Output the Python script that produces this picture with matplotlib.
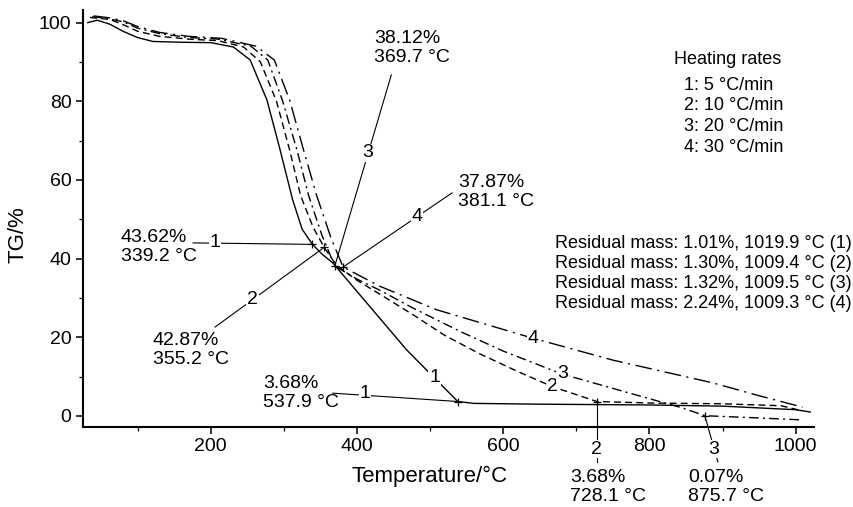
import matplotlib
matplotlib.use("Agg")
import matplotlib.pyplot as plt
from matplotlib.ticker import MultipleLocator

plt.rcParams['font.family'] = ['Liberation Sans', 'DejaVu Sans']
plt.rcParams['font.size'] = 14

# curve 1: 5 C/min
t1 = [32, 45, 62, 80, 100, 121, 160, 200, 231, 254, 277, 295, 312, 325, 339.2,
      352, 367, 420, 468, 537.9, 560, 650, 800, 900, 1000, 1019.9]
g1 = [100.0, 100.6, 99.6, 97.8, 96.2, 95.2, 95.0, 94.9, 93.8, 90.5, 80.3, 67.6,
      55.0, 47.5, 43.62, 41.2, 38.9, 27.3, 16.8, 3.68, 3.2, 3.0, 2.8, 2.5, 1.6, 1.01]
# curve 2: 10 C/min
t2 = [35, 62, 80, 100, 130, 170, 210, 245, 268, 290, 308, 323, 340, 355.2, 372,
      400, 431, 477, 520, 568, 620, 668, 728.1, 800, 900, 980, 1009.4]
g2 = [101.3, 100.8, 99.5, 97.8, 96.5, 95.8, 95.4, 93.8, 90.0, 80.0, 67.6, 56.0,
      48.0, 42.87, 38.3, 34.5, 31.0, 25.7, 20.5, 15.8, 11.3, 7.4, 3.68, 3.3, 3.1,
      2.6, 1.30]
# curve 3: 20 C/min
t3 = [38, 60, 80, 100, 130, 170, 210, 255, 278, 298, 318, 334, 352, 369.7, 400,
      431, 477, 541, 600, 680, 773, 846, 875.7, 950, 1009.5]
g3 = [101.5, 101.0, 100.2, 98.6, 97.2, 96.2, 95.8, 94.0, 90.5, 80.3, 67.6, 56.0,
      46.0, 38.12, 34.8, 32.0, 27.4, 21.5, 16.5, 10.7, 5.8, 2.0, 0.07, -0.5, -1.0]
# curve 4: 30 C/min
t4 = [40, 62, 80, 100, 130, 170, 215, 262, 287, 308, 327, 345, 365, 381.1, 431,
      509, 640, 750, 887, 947, 1009.3]
g4 = [101.7, 101.2, 100.5, 99.0, 97.5, 96.5, 96.0, 94.0, 90.5, 80.3, 67.6, 56.0,
      45.0, 37.87, 33.0, 27.0, 19.8, 14.2, 8.4, 5.3, 2.24]

# marked points (temperature, mass)
mark_t = [339.2, 355.2, 369.7, 381.1, 537.9, 728.1, 875.7]
mark_g = [43.62, 42.87, 38.12, 37.87, 3.68, 3.68, 0.07]

rates = ['1: 5 °C/min', '2: 10 °C/min', '3: 20 °C/min', '4: 30 °C/min']
residuals = ['Residual mass: 1.01%, 1019.9 °C (1)',
             'Residual mass: 1.30%, 1009.4 °C (2)',
             'Residual mass: 1.32%, 1009.5 °C (3)',
             'Residual mass: 2.24%, 1009.3 °C (4)']

W, H = 854, 507


def px(x, y):
    return x / W, 1 - y / H


fig = plt.figure(figsize=(W / 100, H / 100), dpi=100)
ax = fig.add_axes([82.7 / W, 1 - 427 / H, (814 - 82.7) / W, (427 - 10) / H])

lw = 1.0
ax.plot(t1, g1, color='black', lw=lw, ls='-')
ax.plot(t2, g2, color='black', lw=lw, ls=(0, (5, 3)))
ax.plot(t3, g3, color='black', lw=lw, ls=(0, (7, 3, 1.5, 3)))
ax.plot(t4, g4, color='black', lw=lw, ls=(0, (12, 4, 1.5, 4)))
ax.plot(mark_t, mark_g, ls='none', marker='+', ms=6, mew=0.9, color='black')

ax.set_xlim(25, 1025)
ax.set_ylim(-2.8, 103.2)
ax.xaxis.set_major_locator(MultipleLocator(200))
ax.xaxis.set_minor_locator(MultipleLocator(100))
ax.yaxis.set_major_locator(MultipleLocator(20))
ax.yaxis.set_minor_locator(MultipleLocator(10))
ax.spines['top'].set_visible(False)
ax.spines['right'].set_visible(False)
for s in ('left', 'bottom'):
    ax.spines[s].set_linewidth(1.5)
ax.tick_params(which='major', direction='out', length=5, width=1.1, labelsize=14, pad=3)
ax.tick_params(which='minor', direction='out', length=3, width=0.9)
ax.set_xticks([200, 400, 600, 800, 1000])

fig.text(*px(430, 476), 'Temperature/°C', ha='center', va='center', fontsize=16)
fig.text(*px(18, 235), 'TG/%', ha='center', va='center', rotation=90, fontsize=16)

box = dict(facecolor='white', edgecolor='none', pad=0.5)

# inline curve labels
for lab, x, y in [('1', 506, 9.7), ('2', 668, 7.5), ('3', 681, 10.7), ('4', 641, 19.6)]:
    ax.text(x, y, lab, ha='center', va='center', bbox=box, zorder=5)

# leader lines to the marked points
leaders = [((176, 44.0), (339.2, 43.62), '1', (206, 44.2)),
           ((206, 22.6), (355.2, 42.87), '2', (257, 29.5)),
           ((447, 86.7), (369.7, 38.12), '3', (414, 66.9)),
           ((530, 56.7), (381.1, 37.87), '4', (482, 50.6)),
           ((367, 5.8), (537.9, 3.68), '1', (411, 5.8)),
           ((728.1, -11.7), (728.1, 3.68), '2', (728.1, -8.4)),
           ((893.6, -11.7), (875.7, 0.07), '3', (888, -8.4))]
for (x0, y0), (x1, y1), lab, (lx, ly) in leaders:
    ax.plot([x0, x1], [y0, y1], color='black', lw=0.8, clip_on=False)
    ax.text(lx, ly, lab, ha='center', va='center', bbox=box, zorder=5, clip_on=False)

notes = [('43.62%\n339.2 °C', 121, 247),
         ('42.87%\n355.2 °C', 153, 350),
         ('38.12%\n369.7 °C', 374, 48),
         ('37.87%\n381.1 °C', 458, 192),
         ('3.68%\n537.9 °C', 263, 393),
         ('3.68%\n728.1 °C', 570, 487),
         ('0.07%\n875.7 °C', 688, 487)]
for txt, x, y in notes:
    fig.text(*px(x, y), txt, ha='left', va='center', linespacing=1.12)

fig.text(*px(728, 60), 'Heating rates', ha='center', va='center', fontsize=13)
for i, r in enumerate(rates):
    fig.text(*px(684, 85 + 20.7 * i), r, ha='left', va='center', fontsize=13)

for i, r in enumerate(residuals):
    fig.text(*px(852, 244 + 20 * i), r, ha='right', va='center', fontsize=13)

fig.savefig('out.png', dpi=100)
